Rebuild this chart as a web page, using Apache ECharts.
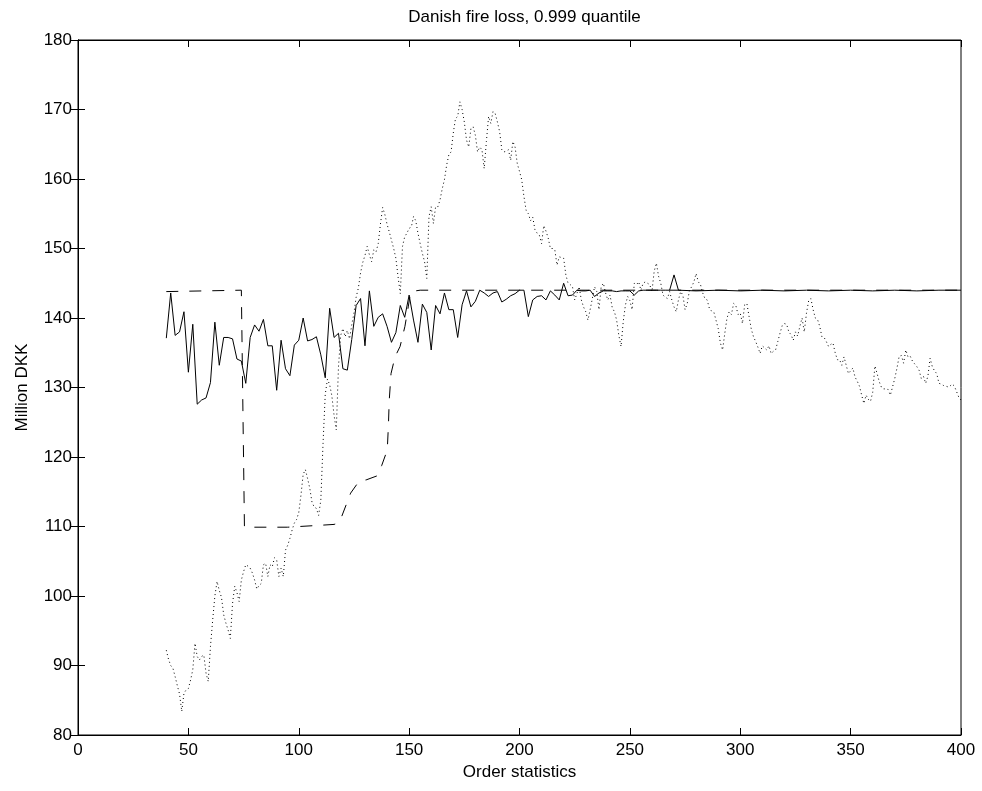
<!DOCTYPE html>
<html>
<head>
<meta charset="utf-8">
<script src="https://cdn.jsdelivr.net/npm/echarts@6/dist/echarts.min.js"></script>
<style>
html,body{margin:0;padding:0;background:#fff;}
#chart{width:982px;height:791px;}
</style>
</head>
<body>
<div id="chart"></div>
<script>
const titleText = "Danish fire loss, 0.999 quantile";
const xLabel = "Order statistics";
const yLabel = "Million DKK";

// Solid series (order statistic, value)
const solidX = [40,42,44,46,48,50,52,54,56,58,60,62,64,66,68,70,72,74,76,78,80,82,84,86,88,90,92,94,96,98,100,102,104,106,108,110,112,114,116,118,120,122,124,126,128,130,132,134,136,138,140,142,144,146,148,150,152,154,156,158,160,162,164,166,168,170,172,174,176,178,180,182,184,186,188,190,192,194,196,198,200,202,204,206,208,210,212,214,216,218,220,222,224,226,228,230,232,234,236,238,240,242,244,246,248,250,252,254,256,258,260,262,264,266,268,270,272,280,290,300,310,320,330,340,350,360,370,380,390,400];
const solidY = [137.1,143.6,137.5,138.0,140.9,132.2,139.1,127.6,128.2,128.5,130.7,139.4,133.2,137.2,137.2,137.0,134.1,133.8,130.6,137.2,139.0,138.1,139.8,136.0,136.0,129.6,136.8,132.7,131.7,136.1,136.8,140.0,136.7,136.9,137.3,134.7,131.4,141.4,137.2,137.8,132.7,132.5,136.9,141.8,142.8,136.0,143.9,138.8,140.1,140.6,138.8,136.5,137.9,141.8,140.1,143.3,139.7,136.5,142.0,140.8,135.4,141.8,140.6,143.6,141.2,141.2,137.2,141.9,143.9,141.6,142.4,144.0,143.6,143.1,143.6,143.8,142.3,142.7,143.2,143.5,144.0,144.0,140.2,142.6,143.1,143.2,142.6,143.9,143.3,142.6,145.0,143.2,143.3,144.0,143.9,143.9,144.0,143.1,143.6,143.9,143.9,143.9,143.8,143.9,143.9,143.9,143.3,143.9,144.0,144.0,144.0,144.0,144.0,144.0,144.0,146.2,144.0,143.9,144.0,143.9,144.0,143.9,144.0,143.9,144.0,143.9,144.0,143.9,144.0,144.0];

// Dashed series
const dashedX = [40,74,75.4,95,111,116,117.9,119.4,121.7,123.5,127.5,130.5,135.6,137.6,140.1,140.6,141.0,141.8,143.6,145.9,148.1,149.6,150.7,155,400];
const dashedY = [143.8,144.0,109.9,109.9,110.2,110.3,110.5,111.4,113.3,114.8,116.6,116.7,117.3,118.8,121.0,124.4,128.2,132.0,134.4,135.9,138.8,141.6,143.8,144.0,144.0];

// Dotted series
const dottedX = [40,41,42,43,44,45,46,47,48,49,50,51,52,53,54,55,56,57,58,59,60,61,62,63,64,65,66,67,68,69,70,71,72,73,74,75,76,77,78,79,80,81,82,83,84,85,86,87,88,89,90,91,92,93,94,95,96,97,98,99,100,101,102,103,104,105,106,107,108,109,110,111,112,113,114,115,116,117,118,119,120,121,122,123,124,125,126,127,128,129,130,131,132,133,134,135,136,137,138,139,140,141,142,143,144,145,146,147,148,149,150,151,152,153,154,155,156,157,158,159,160,161,162,163,164,165,166,167,168,169,170,171,172,173,174,175,176,177,178,179,180,181,182,183,184,185,186,187,188,189,190,191,192,193,194,195,196,197,198,199,200,201,202,203,204,205,206,207,208,209,210,211,212,213,214,215,216,217,218,219,220,221,222,223,224,225,226,227,228,229,230,231,232,233,234,235,236,237,238,239,240,241,242,243,244,245,246,247,248,249,250,251,252,253,254,255,256,257,258,259,260,261,262,263,264,265,266,267,268,269,270,271,272,273,274,275,276,277,278,279,280,281,282,283,284,285,286,287,288,289,290,291,292,293,294,295,296,297,298,299,300,301,302,303,304,305,306,307,308,309,310,311,312,313,314,315,316,317,318,319,320,321,322,323,324,325,326,327,328,329,330,331,332,333,334,335,336,337,338,339,340,341,342,343,344,345,346,347,348,349,350,351,352,353,354,355,356,357,358,359,360,361,362,363,364,365,366,367,368,369,370,371,372,373,374,375,376,377,378,379,380,381,382,383,384,385,386,387,388,389,390,391,392,393,394,395,396,397,398,399,400];
const dottedY = [92.2,90.9,90.0,89.6,88.4,87.1,85.9,83.4,86.0,86.5,86.7,87.9,89.4,93.2,91.3,90.8,91.3,91.5,88.9,87.7,92.7,96.5,100.0,102.1,100.8,99.8,97.3,96.1,95.1,93.9,98.9,101.4,100.5,99.2,102.3,103.5,104.5,104.3,104.0,103.3,102.3,101.0,101.5,101.8,104.5,104.7,102.8,104.5,104.2,105.5,105.2,102.8,104.0,102.8,106.6,107.3,108.3,109.5,110.5,111.0,112.0,114.5,117.5,118.2,116.9,115.5,113.5,112.8,112.6,111.6,113.8,121.9,129.0,131.2,130.4,128.8,126.0,123.9,133.0,137.5,138.5,137.3,138.2,137.0,139.0,140.7,143.0,144.3,146.5,148.0,149.0,150.3,149.1,148.1,149.8,149.5,150.7,153.5,155.9,154.9,153.5,152.4,151.2,150.0,148.6,145.9,143.5,150.3,151.7,152.2,152.9,153.1,154.6,154.0,152.2,150.7,149.3,148.1,145.7,154.6,156.0,153.6,156.0,156.0,157.0,158.6,159.9,162.0,163.5,163.9,166.6,168.7,169.0,171.1,170.0,168.2,165.6,164.6,167.3,167.5,166.3,163.9,164.6,164.2,161.5,165.4,169.0,168.0,169.7,169.4,168.2,166.8,164.2,163.9,164.0,164.2,162.7,165.4,164.6,162.2,161.1,159.9,157.5,155.5,155.0,154.0,154.5,152.7,152.2,151.9,150.7,153.3,152.5,151.5,150.0,150.0,149.8,147.6,148.8,148.7,148.6,146.2,145.0,144.8,144.5,142.6,143.5,144.5,142.6,141.6,140.9,139.7,141.2,142.8,144.5,143.8,141.2,144.5,145.0,143.6,142.6,143.3,141.5,140.9,139.7,137.5,135.9,139.5,141.9,143.1,142.5,141.2,145.0,144.8,145.2,144.0,145.0,145.2,145.0,144.8,143.8,146.7,147.9,146.0,145.0,143.3,143.0,142.8,143.8,142.6,141.6,140.9,142.6,143.8,143.3,141.2,142.1,144.0,144.5,145.2,146.4,145.2,144.8,143.6,142.8,142.6,141.4,141.0,140.9,139.7,138.5,136.4,135.4,137.8,140.0,140.9,140.5,142.1,141.8,140.5,140.7,139.2,141.9,142.1,140.2,138.4,137.3,136.6,135.8,134.9,136.0,135.7,135.4,136.0,134.9,135.2,135.4,136.6,137.8,138.9,139.2,139.1,138.0,137.6,136.8,138.0,137.4,138.8,140.0,138.0,140.7,142.5,142.8,141.2,140.0,139.8,138.8,137.3,137.2,136.6,135.9,136.2,136.4,135.0,134.0,134.0,133.2,134.4,133.2,132.0,132.4,132.8,131.5,130.9,130.2,128.9,127.7,128.9,128.3,128.0,129.3,133.1,132.0,130.8,130.0,129.8,129.8,129.7,128.9,130.1,131.3,132.8,134.5,134.6,133.5,135.4,134.4,134.5,133.8,133.4,133.0,132.5,131.3,131.6,130.6,131.6,134.2,133.0,132.4,132.0,130.6,130.5,130.3,130.2,130.1,130.2,130.5,130.2,129.4,128.6,128.2];

const xTicks = {min: 0, max: 400, interval: 50};
const yTicks = {min: 80, max: 180, interval: 10};

function pairs(xs, ys){ return xs.map((x,i)=>[x, ys[i]]); }

const FONT = "Liberation Sans, Arial, Helvetica, sans-serif";
const FS = 17;
const chart = echarts.init(document.getElementById('chart'), null, {renderer:'canvas'});

const tickStyle = {show:true, inside:true, length:7, lineStyle:{color:'#000', width:1}};
const axisLine = {show:true, lineStyle:{color:'#000', width:1}};

chart.setOption({
  animation:false,
  backgroundColor:'#fff',
  title:{text:titleText, left:519.5, textAlign:'center', top:4, textStyle:{fontFamily:FONT, fontSize:FS, fontWeight:'normal', color:'#000'}},
  grid:{left:78, top:40, width:883, height:695, show:true, borderColor:'#000', borderWidth:1, containLabel:false},
  xAxis:[
    {type:'value', min:xTicks.min, max:xTicks.max, interval:xTicks.interval, position:'bottom',
     name:xLabel, nameLocation:'middle', nameGap:28, nameTextStyle:{fontFamily:FONT, fontSize:FS, color:'#000'},
     axisLine:axisLine, axisTick:tickStyle, splitLine:{show:false},
     axisLabel:{fontFamily:FONT, fontSize:FS, color:'#000', margin:7}},
    {type:'value', min:xTicks.min, max:xTicks.max, interval:xTicks.interval, position:'top',
     axisLine:axisLine, axisTick:tickStyle, splitLine:{show:false}, axisLabel:{show:false}}
  ],
  yAxis:[
    {type:'value', min:yTicks.min, max:yTicks.max, interval:yTicks.interval, position:'left',
     name:yLabel, nameLocation:'middle', nameGap:47, nameRotate:90, nameTextStyle:{fontFamily:FONT, fontSize:FS, color:'#000'},
     axisLine:axisLine, axisTick:tickStyle, splitLine:{show:false},
     axisLabel:{fontFamily:FONT, fontSize:FS, color:'#000', margin:6}},
    {type:'value', min:yTicks.min, max:yTicks.max, interval:yTicks.interval, position:'right',
     axisLine:axisLine, axisTick:tickStyle, splitLine:{show:false}, axisLabel:{show:false}}
  ],
  series:[
    {type:'line', name:'dotted', data:pairs(dottedX, dottedY), showSymbol:false, symbol:'none',
     lineStyle:{color:'#000', width:1, type:[1,3]}, z:2},
    {type:'line', name:'dashed', data:pairs(dashedX, dashedY), showSymbol:false, symbol:'none',
     lineStyle:{color:'#000', width:1, type:[12,11]}, z:3},
    {type:'line', name:'solid', data:pairs(solidX, solidY), showSymbol:false, symbol:'none',
     lineStyle:{color:'#000', width:1}, z:4}
  ]
});
</script>
</body>
</html>
